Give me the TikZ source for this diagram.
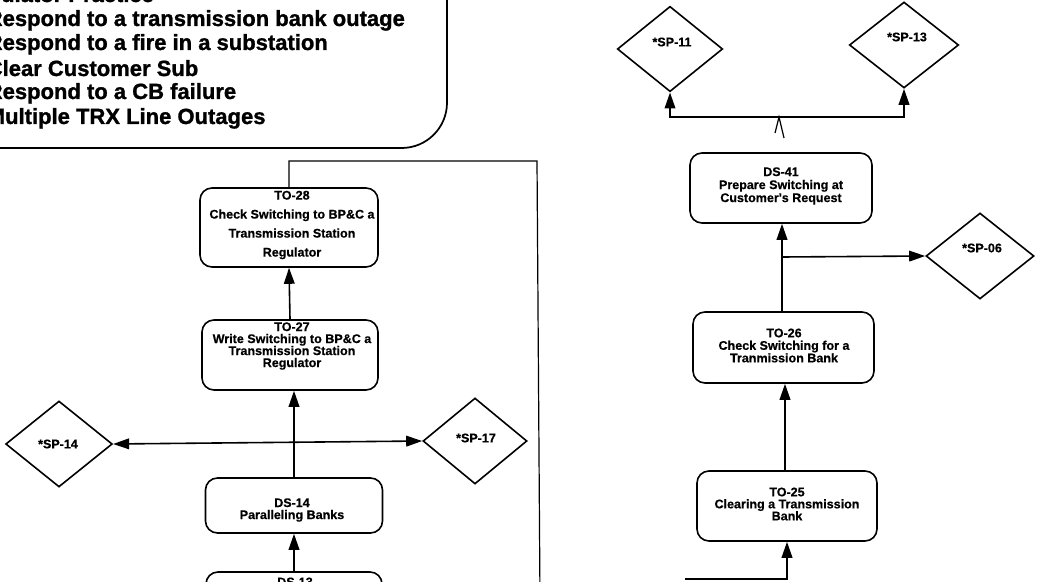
\documentclass[tikz,border=0pt]{standalone}
\usepackage{fontspec}
\setmainfont{Liberation Sans}
\newfontfamily\heavyfont[FakeBold=1.2]{Liberation Sans}
\newfontfamily\boxfont[FakeBold=0.5]{Liberation Sans}
\usetikzlibrary{arrows.meta,shapes.geometric}

\begin{document}
\begin{tikzpicture}[x=0.75pt,y=-0.75pt,
  line width=1.2pt,
  arr/.style={-{Triangle[length=12pt,width=8pt]}},
  dblarr/.style={{Triangle[length=12pt,width=8pt]}-{Triangle[length=12pt,width=8pt]}},
  task/.style={draw,line width=1.2pt,rounded corners=9pt,inner sep=0pt},
  tasktext/.style={align=center,inner sep=0pt,font=\boxfont\bfseries\fontsize{9.4}{9}\selectfont},
  sp/.style={draw,diamond,line width=1.2pt,inner sep=0pt},
  sptext/.style={inner sep=0pt,font=\boxfont\bfseries\fontsize{9.4}{10}\selectfont},
  note/.style={anchor=base west,inner sep=0pt,font=\heavyfont\bfseries\fontsize{16.5}{18}\selectfont}
]
\useasboundingbox (0,0) rectangle (1037,581);
\clip (0,0) rectangle (1037,581);

% ---- list of exercises (box runs past the top left edge)
\draw[line width=1.3pt,rounded corners=34pt] (-120,-120) rectangle (447,148);
\node[note] (n0) at (-40,2)   {Simulator Practice};
\node[note] (n1) at (-14,26)  {Respond to a transmission bank outage};
\node[note] (n2) at (-14,50)  {Respond to a fire in a substation};
\node[note] (n3) at (-14,76)  {Clear Customer Sub};
\node[note] (n4) at (-14,99)  {Respond to a CB failure};
\node[note] (n5) at (-14,124) {Multiple TRX Line Outages};

% ---- left column of tasks
\node[task,minimum width=133.5pt,minimum height=59.25pt] (to28) at (289,227.5) {};
\node[tasktext,font=\boxfont\bfseries\fontsize{9.4}{14.25}\selectfont] (to28t) at (292,225)
  {TO-28\\Check Switching to BP\&C a\\Transmission Station\\Regulator};

\node[task,minimum width=132pt,minimum height=52.5pt] (to27) at (290,355) {};
\node[tasktext] (to27t) at (292,346)
  {TO-27\\Write Switching to BP\&C a\\Transmission Station\\Regulator};

\node[task,minimum width=132.75pt,minimum height=41.25pt] (ds14) at (294,505.5) {};
\node[tasktext] (ds14t) at (292,510) {DS-14\\Paralleling Banks};

\node[task,minimum width=132pt,minimum height=45pt] (ds13) at (294,602) {};
\node[tasktext] (ds13t) at (295,582) {DS-13};

\node[sp,minimum width=80pt,minimum height=64.5pt] (sp14) at (59,444) {};
\node[sptext] (sp14t) at (58,444) {*SP-14};
\node[sp,minimum width=78pt,minimum height=64.5pt] (sp17) at (475,441) {};
\node[sptext] (sp17t) at (476,438) {*SP-17};

\draw[arr] (to27.north) -- (to28.south);
\draw[arr] (ds14.north) -- (ds14.north |- to27.south);
\draw[arr] (ds13.north) -- (ds13.north |- ds14.south);
\draw[dblarr] (sp14.east) -- (sp17.west);

% feed line leaving the top of TO-28 and running down the right side
\coordinate (lt) at (537,161);
\coordinate (lb) at (540,600);
\draw[line width=0.9pt] (to28.north) |- (lt) -- (lb);

% ---- right column of tasks
\node[sp,minimum width=79pt,minimum height=64pt] (sp11) at (670,49) {};
\node[sptext] (sp11t) at (672,42) {*SP-11};
\node[sp,minimum width=82pt,minimum height=64.5pt] (sp13) at (904,45) {};
\node[sptext] (sp13t) at (907,37) {*SP-13};
\node[sp,minimum width=81pt,minimum height=64.5pt] (sp06) at (980,256) {};
\node[sptext] (sp06t) at (982,248) {*SP-06};

\node[task,minimum width=136.5pt,minimum height=52.5pt] (ds41) at (781,188) {};
\node[tasktext,font=\boxfont\bfseries\fontsize{9.4}{9.75}\selectfont] (ds41t) at (781,186)
  {DS-41\\Prepare Switching at\\Customer's Request};

\node[task,minimum width=135.75pt,minimum height=53.25pt] (to26) at (783.5,347.5) {};
\node[tasktext,font=\boxfont\bfseries\fontsize{9.4}{9.4}\selectfont] (to26t) at (784,345.5)
  {TO-26\\Check Switching for a\\Tranmission Bank};

\node[task,minimum width=135pt,minimum height=52.5pt] (to25) at (787,506) {};
\node[tasktext] (to25t) at (787,504)
  {TO-25\\Clearing a Transmission\\Bank};

% junction above DS-41 feeding SP-11 and SP-13
\coordinate (jr) at (779,117);
\draw[arr] (jr) -| (sp11.south);
\draw[arr] (jr) -| (sp13.south);
\draw[line width=0.9pt] ([shift={(-4,16)}]jr) -- (jr) -- ([shift={(5,21)}]jr);

% TO-26 up to DS-41, with the branch to SP-06
\coordinate (jb) at (782,257);
\draw[arr] (to26.north -| jb) -- (ds41.south -| jb);
\draw[arr] (jb) -- (sp06.west);

\draw[arr] (to25.north -| 785,0) -- (to26.south -| 785,0);

% feed line into TO-25 from the bottom
\coordinate (bin) at (685,579);
\draw[arr] (bin) -| (to25.south);

\end{tikzpicture}
\end{document}
